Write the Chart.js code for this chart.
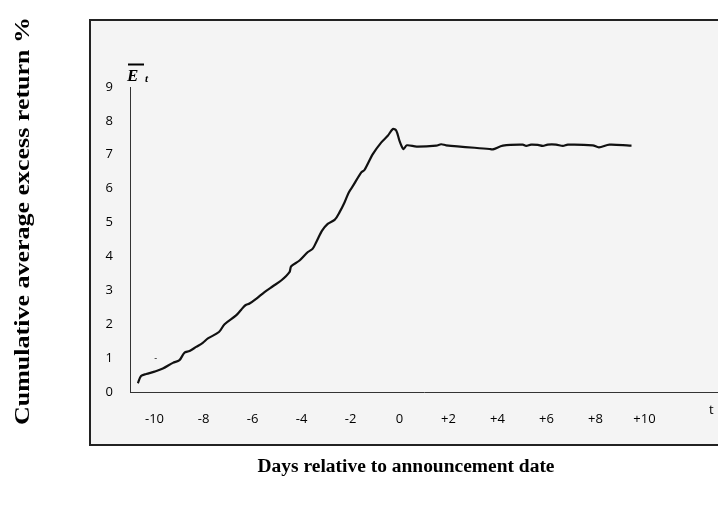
<!DOCTYPE html>
<html>
<head>
<meta charset="utf-8">
<script src="https://cdn.jsdelivr.net/npm/chart.js@4.4.1/dist/chart.umd.min.js"></script>
<style>
  html, body { margin: 0; padding: 0; background: #fff; }
  #wrap { width: 718px; height: 509px; position: relative; }
</style>
</head>
<body>
<div id="wrap"><canvas id="car"></canvas></div>
<script>
// days relative to announcement (t) and cumulative average excess return (%)
const days = [
  -10.68, -10.55, -10.34, -10.00, -9.66, -9.25, -8.98, -8.78, -8.57, -8.30,
  -8.03, -7.82, -7.37, -7.14, -6.67, -6.46, -6.29, -6.12, -5.85, -5.51,
  -5.17, -4.83, -4.49, -4.42, -4.08, -3.74, -3.54, -3.40, -3.16, -2.93,
  -2.65, -2.45, -2.24, -2.07, -1.90, -1.56, -1.43, -1.09, -0.75, -0.48,
  -0.27, -0.13, 0.00, 0.16, 0.30, 0.70, 1.50, 1.70, 1.90, 3.67,
  3.81, 4.22, 5.03, 5.17, 5.37, 5.65, 5.85, 6.05, 6.39, 6.67,
  6.87, 7.89, 8.14, 8.57, 9.39, 9.47
];
const cumReturn = [
  0.26, 0.47, 0.53, 0.60, 0.69, 0.86, 0.94, 1.16, 1.21, 1.33,
  1.45, 1.58, 1.77, 2.00, 2.26, 2.43, 2.56, 2.61, 2.75, 2.95,
  3.12, 3.29, 3.54, 3.71, 3.88, 4.13, 4.23, 4.42, 4.76, 4.96,
  5.08, 5.30, 5.60, 5.89, 6.08, 6.48, 6.55, 7.02, 7.36, 7.56,
  7.76, 7.71, 7.41, 7.17, 7.28, 7.24, 7.27, 7.31, 7.28, 7.17,
  7.16, 7.27, 7.30, 7.26, 7.30, 7.29, 7.26, 7.30, 7.30, 7.26,
  7.30, 7.28, 7.22, 7.30, 7.27, 7.27
];
const xTicks = [-10, -8, -6, -4, -2, 0, 2, 4, 6, 8, 10];
const yTicks = [0, 1, 2, 3, 4, 5, 6, 7, 8, 9];

const INK = '#000';
const TICK_FONT = { family: "'Open Sans', sans-serif", size: 13 };
const SERIF = "'Liberation Serif', 'Times New Roman', serif";

// frame, titles and the little annotations of the original figure
const figure = {
  id: 'figure',
  beforeDraw(chart) {
    const c = chart.ctx;
    c.save();
    c.fillStyle = '#fff';
    c.fillRect(0, 0, chart.width, chart.height);
    c.fillStyle = '#f4f4f4';
    c.fillRect(90, 20, 640, 425);
    c.strokeStyle = '#222';
    c.lineWidth = 2;
    c.strokeRect(90, 20, 640, 425);
    c.restore();
  },
  afterDraw(chart) {
    const c = chart.ctx, xs = chart.scales.x, ys = chart.scales.y;
    c.save();
    c.fillStyle = INK;
    c.textAlign = 'center';
    c.textBaseline = 'middle';

    // y title, rotated
    c.font = `bold 22px ${SERIF}`;
    const yt = 'Cumulative average excess return %';
    c.save();
    c.translate(23, 221);
    c.rotate(-Math.PI / 2);
    c.scale(408 / c.measureText(yt).width, 1);
    c.fillText(yt, 0, 0);
    c.restore();

    // x title
    c.font = `bold 18px ${SERIF}`;
    const xt = 'Days relative to announcement date';
    c.save();
    c.translate(406, 467);
    c.scale(297 / c.measureText(xt).width, 1);
    c.fillText(xt, 0, 0);
    c.restore();

    // axis names: E-bar with subscript t, and t
    c.textAlign = 'left';
    c.textBaseline = 'alphabetic';
    c.font = `bold italic 17px ${SERIF}`;
    c.fillText('E', 127, 81);
    c.font = `bold italic 11px ${SERIF}`;
    c.fillText('t', 145, 82);
    c.fillRect(128, 63.5, 16, 2);
    c.font = `13px ${TICK_FONT.family}`;
    c.fillText('t', 709, 414);

    // stray dash at day -10, 1 %
    c.font = `9px ${TICK_FONT.family}`;
    c.textAlign = 'center';
    c.textBaseline = 'middle';
    c.fillText('-', xs.getPixelForValue(-9.95), ys.getPixelForValue(1));
    c.restore();
  }
};

new Chart(document.getElementById('car'), {
  type: 'line',
  data: {
    datasets: [{
      data: days.map((d, i) => ({ x: d, y: cumReturn[i] })),
      borderColor: '#111',
      borderWidth: 2.2,
      pointRadius: 0,
      tension: 0.3,
      fill: false
    }]
  },
  options: {
    responsive: true, maintainAspectRatio: false, animation: false,
    layout: { padding: { left: 0, top: 87, right: 0, bottom: 77 } },
    plugins: { legend: { display: false }, tooltip: { enabled: false } },
    scales: {
      x: {
        type: 'linear', min: -11, max: 13,
        grid: { display: false, drawTicks: false },
        border: { display: true, color: '#333', width: 1 },
        afterBuildTicks: s => { s.ticks = xTicks.map(v => ({ value: v })); },
        afterFit: s => { s.height = 40; },
        ticks: {
          padding: 19, color: INK, font: TICK_FONT, maxRotation: 0,
          callback: v => (v > 0 ? '+' + v : String(v))
        }
      },
      y: {
        min: 0, max: 9,
        grid: { display: false, drawTicks: false },
        border: { display: true, color: '#333', width: 1 },
        afterBuildTicks: s => { s.ticks = yTicks.map(v => ({ value: v })); },
        afterFit: s => { s.width = 130; },
        ticks: { padding: 17, color: INK, font: TICK_FONT }
      }
    }
  },
  plugins: [figure]
});
</script>
</body>
</html>
